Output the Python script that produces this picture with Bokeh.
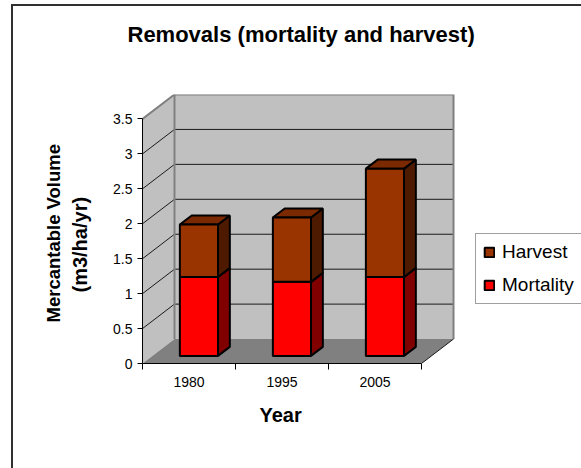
from bokeh.plotting import figure
from bokeh.embed import file_html
from bokeh.resources import INLINE
from bokeh.models import (Range1d, LinearAxis, FixedTicker, Legend, LegendItem, Title)

years = ["1980", "1995", "2005"]
mortality = [1.13, 1.06, 1.13]
harvest = [0.75, 0.92, 1.55]
y_ticks = [0, 0.5, 1, 1.5, 2, 2.5, 3, 3.5]
y_labels = {0: "0", 0.5: "0.5", 1: "1", 1.5: "1.5", 2: "2", 2.5: "2.5", 3: "3", 3.5: "3.5"}

FONT = "Liberation Sans"
DX, DY = 0.344, 0.35          # wall depth in axis units
BAR_W = 0.41
D0, D1 = 0.31, 0.68           # front and back of the bars, as a share of the depth
X_END = 4.72                  # the frame runs on under the legend
n = len(years)
y_max = y_ticks[-1]

p = figure(width=568, height=462, output_backend="svg", toolbar_location=None,
           x_range=Range1d(0, X_END), y_range=Range1d(0, y_max + DY),
           x_axis_type=None, y_axis_type=None,
           min_border_left=129, min_border_right=0, min_border_top=88, min_border_bottom=105,
           outline_line_color=None, background_fill_color=None, border_fill_color="white",
           title=None)
p.styles = {"margin-left": "13px", "margin-top": "6px", "outline": "2px solid #303030"}
p.grid.visible = False

# walls and floor
WALL, FLOOR, EDGE = "#c0c0c0", "#808080", "#808080"
p.patch([0, DX, DX, 0], [0, DY, y_max + DY, y_max], fill_color=WALL, line_color=None)
p.patch([DX, n + DX, n + DX, DX], [DY, DY, y_max + DY, y_max + DY], fill_color=WALL, line_color=None)
p.patch([0, n, n + DX, DX], [0, 0, DY, DY], fill_color=FLOOR, line_color=None)

# gridlines
for t in y_ticks[1:-1]:
    p.line([0, DX, n + DX], [t, t + DY, t + DY], line_color="#1a1a1a", line_width=1)
# wall edges
p.line([0, DX, n + DX, n + DX], [y_max, y_max + DY, y_max + DY, DY], line_color=EDGE, line_width=2)
p.line([DX, DX], [DY, y_max + DY], line_color=EDGE, line_width=2)
p.line([n, n + DX], [0, DY], line_color="#1a1a1a", line_width=1)

# bars
FRONT = {"Mortality": "#ff0000", "Harvest": "#993300"}
SIDE = {"Mortality": "#800000", "Harvest": "#4d1a00"}
TOP = {"Mortality": "#cc0000", "Harvest": "#7a2900"}
renderers = {}
for i in range(n):
    base = D0 * DY
    xl = i + 0.5 - BAR_W / 2 + D0 * DX
    xr = xl + BAR_W
    ox = (D1 - D0) * DX
    oy = (D1 - D0) * DY
    for name, v in (("Mortality", mortality[i]), ("Harvest", harvest[i])):
        top = base + v
        p.patch([xr, xr + ox, xr + ox, xr], [base, base + oy, top + oy, top],
                fill_color=SIDE[name], line_color="black", line_width=2)
        p.patch([xl, xr, xr + ox, xl + ox], [top, top, top + oy, top + oy],
                fill_color=TOP[name], line_color="black", line_width=2)
        r = p.quad(left=[xl], right=[xr], bottom=[base], top=[top],
                   fill_color=FRONT[name], line_color="black", line_width=2)
        renderers.setdefault(name, r)
        base = top

# axes
yax = LinearAxis(ticker=FixedTicker(ticks=y_ticks), bounds=(0, y_max),
                 major_label_overrides=y_labels,
                 major_tick_in=0, major_tick_out=5, minor_tick_line_color=None,
                 axis_line_color="black", major_tick_line_color="black",
                 major_label_text_font=FONT, major_label_text_font_size="14px",
                 major_label_text_color="black", major_label_standoff=5)
p.add_layout(yax, "left")

xax = LinearAxis(ticker=FixedTicker(ticks=[i + 0.5 for i in range(n)], minor_ticks=list(range(n + 1))),
                 bounds=(0, n),
                 major_label_overrides={i + 0.5: y for i, y in enumerate(years)},
                 major_tick_in=0, major_tick_out=0, minor_tick_in=0, minor_tick_out=6,
                 axis_line_color="black", minor_tick_line_color="black",
                 major_label_text_font=FONT, major_label_text_font_size="14px",
                 major_label_text_color="black", major_label_standoff=7)
p.add_layout(xax, "below")

# axis titles (a thin blank title acts as a spacer in the side panels)
p.add_layout(Title(text=" ", text_font_size="2px", standoff=16), "left")
p.add_layout(Title(text="(m3/ha/yr)", text_font=FONT, text_font_size="20px", text_font_style="bold",
                   text_color="black", align="left", offset=71, standoff=0), "left")
p.add_layout(Title(text="Mercantable Volume", text_font=FONT, text_font_size="18.5px", text_font_style="bold",
                   text_color="black", align="left", offset=41, standoff=6), "left")
p.add_layout(Title(text="Year", text_font=FONT, text_font_size="20px", text_font_style="bold",
                   text_color="black", align="left", offset=117, standoff=24), "below")

# title
p.add_layout(Title(text=" ", text_font_size="2px", standoff=31), "above")
p.add_layout(Title(text="Removals (mortality and harvest)", text_font=FONT, text_font_size="22px",
                   text_font_style="bold", text_color="black", align="left", offset=-15, standoff=26), "above")

# legend
legend = Legend(items=[LegendItem(label="Harvest", renderers=[renderers["Harvest"]]),
                       LegendItem(label="Mortality", renderers=[renderers["Mortality"]])],
                location=(333, 59), orientation="vertical",
                label_text_font=FONT, label_text_font_size="19px", label_text_color="black",
                glyph_width=12, glyph_height=12, spacing=11, padding=7, margin=0,
                label_standoff=7, label_width=90, border_line_color="#404040", border_line_width=1,
                background_fill_color="white", background_fill_alpha=1)
p.add_layout(legend, "center")

open("out.html", "w").write(file_html(p, INLINE))
